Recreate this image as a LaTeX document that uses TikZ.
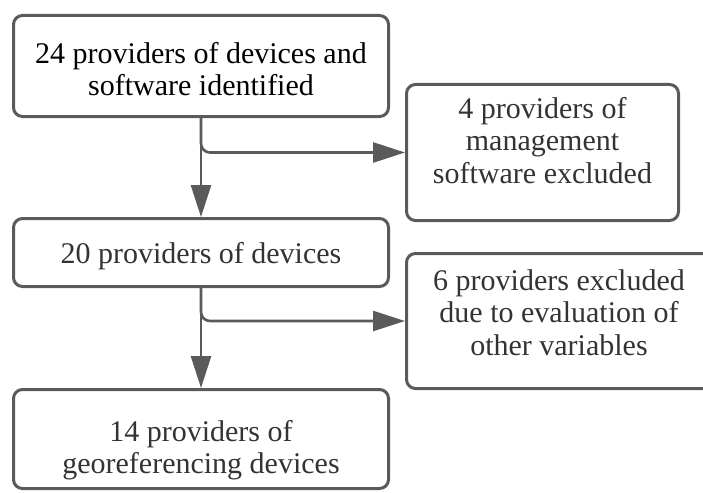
\documentclass[tikz,border=0pt]{standalone}
\usepackage{fontspec}
\setmainfont{Liberation Serif}
\usetikzlibrary{arrows.meta}
\definecolor{edgegray}{HTML}{5A5A5A}
\definecolor{txtgray}{HTML}{333333}
\begin{document}
\begin{tikzpicture}[x=1pt,y=-1pt,
  box/.style={draw=edgegray, line width=3pt, rounded corners=9pt, fill=white, inner sep=0pt},
  lbl/.style={align=center, inner sep=0pt, anchor=north, font=\fontsize{30}{32.5}\selectfont, text=txtgray},
  arr/.style={draw=edgegray, line width=2.6pt, -{Triangle[length=32pt,width=20pt]}},
  branch/.style={arr, rounded corners=9pt}]
\useasboundingbox[fill=white] (0,0) rectangle (703,492);
% boxes
\node[box, minimum width=375pt, minimum height=101pt] (b1) at (201,66) {};
\node[box, minimum width=272pt, minimum height=136pt] (b2) at (542.5,152.5) {};
\node[box, minimum width=375pt, minimum height=68pt] (b3) at (201,252.5) {};
\node[box, minimum width=305pt, minimum height=135pt] (b4) at (559,321) {};
\node[box, minimum width=375pt, minimum height=99pt] (b5) at (201,439) {};
% texts
\node[lbl, text=black] (t1) at (201,42) {24 providers of devices and\\software identified};
\node[lbl] (t2) at (542.5,97) {4 providers of\\management\\software excluded};
\node[lbl] (t3) at (201,242) {20 providers of devices};
\node[lbl] (t4) at (559,269) {6 providers excluded\\due to evaluation of\\other variables};
\node[lbl] (t5) at (201,420) {14 providers of\\georeferencing devices};
% connectors
\draw[arr] (b1.south) -- (b1.south |- b3.north);
\draw[branch] (b1.south) |- (b2.west);
\draw[arr] (b3.south) -- (b3.south |- b5.north);
\draw[branch] (b3.south) |- (b4.west);
\end{tikzpicture}
\end{document}
